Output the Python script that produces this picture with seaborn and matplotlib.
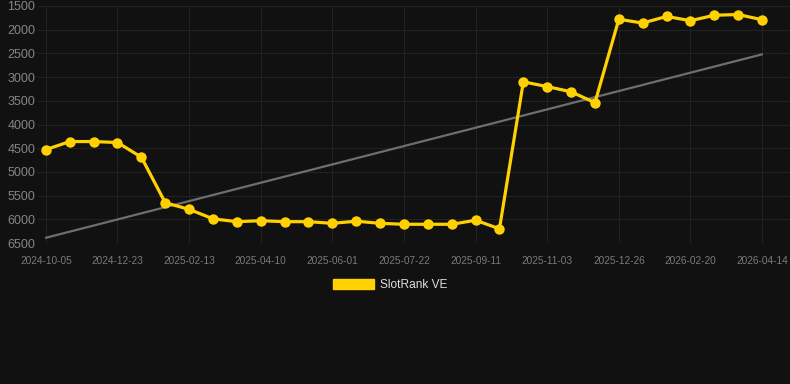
import numpy as np
import pandas as pd
import matplotlib
matplotlib.use('Agg')
import matplotlib.pyplot as plt
import matplotlib.patches as mpatches
import seaborn as sns

# dates on the x axis (categorical, evenly spaced); only every 3rd is labelled
dates = [
    '2024-10-05', '2024-10-31', '2024-11-27', '2024-12-23', '2025-01-10', '2025-01-27',
    '2025-02-13', '2025-03-03', '2025-03-22', '2025-04-10', '2025-04-27', '2025-05-15',
    '2025-06-01', '2025-06-18', '2025-07-05', '2025-07-22', '2025-08-08', '2025-08-25',
    '2025-09-11', '2025-09-29', '2025-10-16', '2025-11-03', '2025-11-20', '2025-12-08',
    '2025-12-26', '2026-01-14', '2026-02-01', '2026-02-20', '2026-03-09', '2026-03-27',
    '2026-04-14',
]
rank = [
    4530, 4360, 4360, 4380, 4690, 5650, 5790, 5990, 6050, 6030,
    6050, 6050, 6085, 6040, 6085, 6105, 6105, 6105, 6020, 6200,
    3100, 3200, 3310, 3540, 1780, 1860, 1720, 1810, 1695, 1680,
    1790,
]
trend = [6390, 2520]  # trend line at first and last date
series_name = 'SlotRank VE'
yticks = [1500, 2000, 2500, 3000, 3500, 4000, 4500, 5000, 5500, 6000, 6500]

bg = '#111111'
grid_c = '#222222'
yellow = '#ffd100'

sns.set_style('dark', {'axes.facecolor': bg, 'figure.facecolor': bg})
plt.rcParams['font.family'] = ['Liberation Sans', 'DejaVu Sans']

df = pd.DataFrame({'idx': range(len(dates)), 'date': dates, 'rank': rank})

fig = plt.figure(figsize=(7.9, 3.84), dpi=100)
ax = fig.add_axes([38 / 790, 1 - 243 / 384, 752 / 790, 237 / 384])

ax.plot([0, len(dates) - 1], trend, color='#6e6e6e', lw=1.6, zorder=2)
sns.lineplot(data=df, x='idx', y='rank', ax=ax, color=yellow, lw=2.3,
             marker='o', markersize=7.5, markeredgewidth=0, zorder=3)

ax.set_xlim(-0.33, 31.17)
ax.set_ylim(6500, 1500)
ax.set_yticks(yticks)
ax.set_xticks(df['idx'][::3])
ax.set_xticklabels(df['date'][::3])
ax.set_xlabel('')
ax.set_ylabel('')

ax.grid(True, color=grid_c, lw=0.8)
for s in ax.spines.values():
    s.set_visible(False)
ax.tick_params(axis='y', colors=grid_c, labelcolor='#858585', labelsize=9,
               length=0, pad=2)
ax.tick_params(axis='x', colors=grid_c, labelcolor='#7a7a7a', labelsize=7.3,
               length=7, width=0.8, pad=2)

handle = mpatches.Patch(color=yellow, label=series_name)
leg = fig.legend(handles=[handle], loc='center', bbox_to_anchor=(390 / 790, 1 - 285 / 384),
                 frameon=False, fontsize=8.6, handlelength=3.4, handleheight=1.0,
                 handletextpad=0.5)
for t in leg.get_texts():
    t.set_color('#dddddd')

fig.savefig('out.png', dpi=100, facecolor=bg)
